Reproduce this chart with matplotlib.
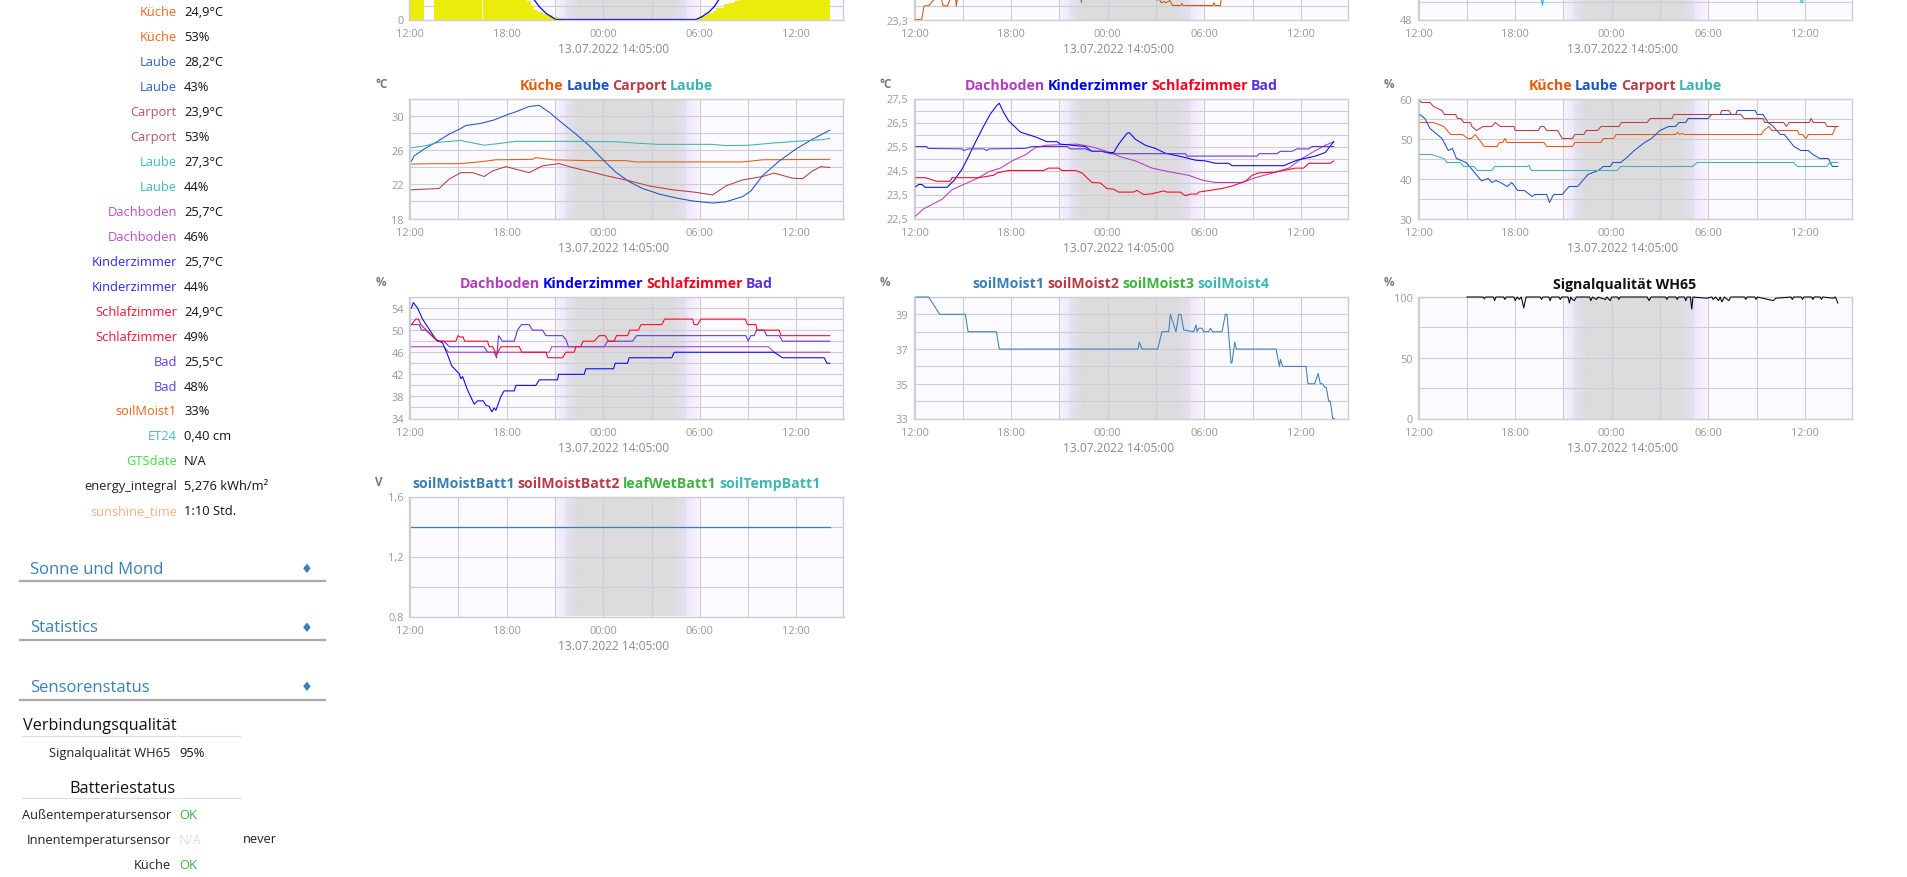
import numpy as np
import matplotlib
matplotlib.use("Agg")
import matplotlib.pyplot as plt
from matplotlib.colors import LinearSegmentedColormap

plt.rcParams['font.family'] = ['Open Sans', 'DejaVu Sans']

W, H = 1908, 878
GRID = '#cfcdd2'
BACK = '#fbfaff'
TICK = '#999999'

# ---- hours after 12:00 on the first day ----
solar_left = [-0.04, 1.5, 2.88, 4.5, 7.29, 7.5, 7.71, 7.92, 8.23, 8.54, 8.85, 9.16,
              17.34, 17.86, 18.1, 18.38, 18.6, 18.8, 19.0, 19.52, 19.83, 20.14, 20.45]
solar_right = [0.85, 2.82, 4.44, 7.29, 7.5, 7.71, 7.92, 8.23, 8.54, 8.85, 9.16, 9.57,
               17.86, 18.1, 18.38, 18.6, 18.8, 19.0, 19.52, 19.83, 20.14, 20.45, 26.08]
solar_val = [300, 300, 300, 300, 140, 100, 72, 58, 45, 32, 22, 10,
             7, 14, 24, 38, 50, 62, 88, 115, 127, 140, 300]
solarmax_h = [6.5, 7.67, 8.02, 8.44, 8.85, 9.06, 17.76, 18.15, 18.58, 18.9, 19.2, 20.5]
solarmax_v = [320, 155, 97, 47, 15, 0, 0, 22, 57, 97, 152, 320]

inner_h = [0.06, 0.44, 0.58, 0.89, 1.2, 1.27, 1.4, 1.6, 1.66, 1.76, 2.03, 2.18, 2.24, 2.4, 2.55, 2.59, 2.65, 2.8,
           10.3, 10.36, 10.42, 14.9, 15.02, 15.08, 15.19, 15.33, 15.5, 15.6, 15.77, 15.85, 16.02, 16.53, 16.6,
           16.68, 18.54, 18.6, 18.67, 19.0, 19.06, 19.4, 26.08]
inner_v = [23.3, 23.3, 23.5, 23.51, 23.6, 23.61, 23.8, 23.8, 23.61, 23.51, 23.5, 23.59, 23.61, 23.8, 23.61, 23.5, 23.61, 23.8,
           23.8, 23.56, 23.8, 23.8, 23.61, 23.59, 23.61, 23.55, 23.57, 23.55, 23.57, 23.59, 23.51, 23.51, 23.54,
           23.51, 23.51, 23.55, 23.51, 23.51, 23.61, 23.8, 23.8]
third_h = [0.08, 7.5, 7.69, 7.9, 23.65, 23.76, 23.86, 23.98, 26.08]
third_v = [55, 52, 49.65, 52, 52, 50, 50, 52, 55]

# temperatures outdoor
t_laube_h = [0.08, 0.25, 0.87, 1.7, 2.43, 3.05, 3.46, 4.39, 5.22, 5.95, 6.57, 7.4, 8.02, 8.64, 9.47, 10.3, 11.13, 11.96,
             12.78, 13.61, 14.44, 15.48, 16.51, 17.55, 18.79, 19.62, 20.66, 21.17, 21.9, 22.93, 23.97, 25.0, 26.08]
t_laube_v = [24.7, 25.3, 26.1, 27.0, 27.85, 28.4, 28.85, 29.1, 29.5, 30.05, 30.45, 31.07, 31.2, 30.4, 29.1, 27.85, 26.5, 24.9,
             23.4, 22.3, 21.5, 20.85, 20.4, 20.05, 19.8, 19.95, 20.55, 21.2, 23.0, 24.7, 26.1, 27.25, 28.3]
t_laube2_h = [0.08, 0.98, 1.8, 3.15, 4.6, 5.53, 6.57, 10.3, 12.78, 14.44, 15.48, 18.79, 19.62, 21.07, 22.52, 23.97, 25.63, 26.08]
t_laube2_v = [26.25, 26.5, 26.9, 27.1, 26.55, 26.75, 27.0, 27.0, 26.95, 26.75, 26.65, 26.65, 26.5, 26.55, 26.8, 27.0, 27.2, 27.35]
t_kueche_h = [0.08, 1.39, 3.05, 4.29, 5.33, 7.6, 7.81, 8.85, 11.13, 13.41, 14.03, 20.66, 21.9, 26.08]
t_kueche_v = [24.35, 24.4, 24.4, 24.6, 24.85, 24.9, 25.1, 24.85, 24.75, 24.75, 24.6, 24.6, 24.85, 24.9]
t_carport_h = [0.08, 1.8, 2.43, 3.15, 3.88, 4.6, 5.12, 5.95, 7.4, 8.23, 9.26, 10.09, 11.33, 12.16, 13.61, 14.86, 16.31, 17.76,
               18.79, 19.62, 20.66, 21.9, 22.62, 23.76, 24.39, 25.0, 25.52, 26.08]
t_carport_v = [21.35, 21.5, 22.6, 23.35, 23.35, 22.9, 23.55, 24.05, 23.35, 24.15, 24.4, 23.95, 23.4, 23.0, 22.4, 21.8, 21.35, 21.05,
               20.75, 21.8, 22.5, 22.9, 23.3, 22.7, 22.65, 23.55, 24.05, 23.95]

# temperatures indoor
t_kinder_h = [0.06, 0.25, 0.45, 0.66, 2.01, 2.43, 2.94, 3.36, 3.77, 4.29, 4.7, 5.12, 5.26, 5.53, 5.84, 6.57, 7.5, 8.23, 8.85, 9.05,
              10.6, 11.02, 11.64, 11.95, 12.37, 12.68, 13.2, 13.34, 13.72, 14.34, 14.96, 15.58, 16.82, 17.45, 18.07, 18.69, 19.52,
              19.72, 22.93, 23.76, 24.9, 25.52, 26.04]
t_kinder_v = [23.82, 23.92, 23.92, 23.8, 23.8, 24.07, 24.55, 25.1, 25.67, 26.35, 26.85, 27.22, 27.3, 26.92, 26.57, 26.1, 25.9, 25.7, 25.7, 25.6,
              25.5, 25.3, 25.3, 25.25, 25.25, 25.6, 26.05, 26.08, 25.8, 25.55, 25.42, 25.22, 25.04, 24.93, 24.9, 24.8, 24.8,
              24.7, 24.7, 24.93, 25.1, 25.25, 25.7]
t_bad_h = [0.06, 0.75, 0.83, 2.94, 3.05, 3.36, 4.29, 4.49, 4.6, 6.88, 7.29, 9.47, 9.68, 10.6, 11.02, 11.64, 12.16, 16.82, 16.93,
           21.28, 21.42, 22.52, 22.73, 23.45, 23.76, 24.49, 24.7, 26.04]
t_bad_v = [25.5, 25.5, 25.42, 25.4, 25.33, 25.4, 25.4, 25.33, 25.4, 25.42, 25.5, 25.5, 25.4, 25.4, 25.3, 25.3, 25.2, 25.2, 25.1,
           25.1, 25.2, 25.2, 25.3, 25.3, 25.4, 25.4, 25.5, 25.5]
t_dach_h = [0.06, 0.56, 1.7, 2.32, 3.15, 3.98, 4.6, 5.33, 6.05, 6.88, 7.5, 8.12, 10.09, 10.92, 11.95, 12.89, 13.72, 14.75, 15.79,
            17.03, 17.86, 18.69, 20.35, 21.17, 22.0, 23.25, 24.07, 24.7, 25.52, 26.04]
t_dach_v = [22.6, 22.9, 23.3, 23.7, 23.95, 24.2, 24.45, 24.6, 24.9, 25.15, 25.45, 25.55, 25.6, 25.5, 25.3, 25.05, 24.9, 24.6, 24.45,
            24.3, 24.1, 24.0, 24.0, 24.2, 24.35, 24.6, 25.0, 25.25, 25.55, 25.7]
t_schlaf_h = [0.06, 0.66, 1.39, 2.22, 2.32, 3.98, 4.91, 5.12, 5.84, 8.02, 8.33, 8.95, 9.16, 9.99, 10.4, 11.02, 11.54, 11.95, 12.37, 12.68,
              13.6, 13.81, 14.23, 14.75, 15.48, 15.69, 16.51, 16.82, 17.14, 17.55, 17.65, 19.1, 19.72, 20.55, 20.97, 21.38, 22.42, 23.66,
              24.18, 24.49, 25.83, 26.04]
t_schlaf_v = [24.2, 24.2, 24.05, 24.05, 24.2, 24.2, 24.3, 24.4, 24.5, 24.5, 24.6, 24.6, 24.5, 24.5, 24.4, 24.0, 23.98, 23.75, 23.72, 23.6,
              23.6, 23.67, 23.5, 23.53, 23.65, 23.6, 23.6, 23.45, 23.52, 23.52, 23.6, 23.75, 23.85, 24.05, 24.3, 24.4, 24.43, 24.6,
              24.6, 24.8, 24.8, 24.9]

# humidity outdoor
h_carport_h = [0.07, 0.18, 0.71, 0.92, 1.45, 1.6, 2.3, 2.42, 2.63, 2.8, 3.22, 3.31, 3.59, 3.8, 4.01, 4.55, 4.76, 5.08, 5.93, 6.0,
               7.43, 7.58, 7.79, 7.96, 8.64, 8.92, 9.56, 9.71, 10.27, 10.41, 11.12, 11.33, 12.44, 12.61, 14.19, 14.4, 15.75, 15.86,
               18.74, 18.84, 19.27, 19.44, 20.02, 20.23, 21.4, 21.51, 22.68, 22.85, 23.02, 24.28, 24.39, 24.52, 25.24, 25.39, 26.05]
h_carport_v = [59.5, 59, 59, 58, 57, 56, 56, 55, 55, 54, 54, 53, 52, 52.5, 53, 53, 54, 53, 53, 52,
               52, 53, 53, 52, 52, 50, 50, 51, 51, 52, 52, 53, 53, 54, 54, 55, 55, 56,
               56, 57, 57, 56, 56, 55, 55, 54, 54, 53, 54, 54, 55, 54, 54, 53, 53]
h_kueche_h = [0.07, 0.92, 1.56, 1.99, 2.73, 3.05, 3.27, 3.52, 4.08, 4.87, 5.02, 5.23, 5.36, 5.47, 7.79, 7.96, 9.56, 9.71, 11.33, 11.48,
              12.12, 12.27, 15.96, 16.1, 16.23, 16.36, 16.5, 21.3, 21.45, 21.77, 21.94, 23.54, 23.64, 23.85, 24.07, 24.22, 25.71, 25.93, 26.05]
h_kueche_v = [54, 54, 53, 51, 51, 50, 50, 51, 48, 48, 49, 49, 50, 49, 49, 48, 48, 49, 49, 50,
              50, 51, 51, 51.5, 51, 51.3, 51, 51, 52, 53, 52, 52, 51, 51, 50, 51, 51, 53, 53]
h_laube2_h = [0.07, 0.81, 1.56, 1.77, 2.58, 2.8, 3.44, 3.65, 4.55, 4.72, 6.72, 6.85, 7.0, 12.34, 12.55, 17.03, 17.3, 23.28, 23.54, 25.35, 25.56, 26.05]
h_laube2_v = [46, 46, 45, 44, 44, 43, 43, 42, 42, 43, 43, 43.3, 42, 42, 43, 43, 44, 44, 43, 43, 44, 44]
h_laube_h = [0.07, 0.39, 0.71, 1.45, 1.84, 2.1, 2.35, 2.95, 3.91, 4.33, 4.55, 4.8, 5.08, 5.51, 5.79, 6.15, 6.57, 7.06, 7.21, 7.96, 8.13,
             8.39, 8.92, 9.35, 9.88, 10.09, 10.52, 11.16, 11.48, 11.91, 12.06, 12.55, 12.87, 13.4, 14.04, 14.47, 15.0, 15.53, 15.96, 16.18,
             16.6, 16.75, 17.99, 18.2, 19.7, 19.8, 20.91, 21.04, 21.4, 21.72, 22.04, 22.47, 22.73, 23.32, 23.75, 24.22, 24.5, 24.92, 25.46, 25.71, 26.05]
h_laube_v = [56, 55, 52.5, 50, 47, 47.5, 45, 44, 39.4, 40, 39, 39.5, 39, 38, 39, 37, 37, 35.5, 36, 36, 34,
             36, 36, 38, 38, 39, 41, 42, 43, 43, 44, 44, 45, 47, 49, 50, 52, 53, 53, 54,
             54, 55, 55, 56, 56, 57, 57, 56, 56, 54, 53, 51, 51, 48, 47, 47, 46, 45, 45, 43, 43]

# humidity indoor
i_kinder_h = [0.08, 0.2, 0.46, 0.77, 1.6, 2.01, 2.32, 2.59, 3.05, 3.15, 3.26, 3.56, 3.98, 4.19, 4.54, 4.7, 4.91, 5.08, 5.22, 5.33, 5.64, 5.84,
              6.47, 6.57, 7.81, 8.02, 9.16, 9.22, 10.82, 10.92, 12.64, 12.74, 13.51, 13.61, 16.26, 16.41, 22.62, 23.14, 25.73, 25.9, 26.08]
i_kinder_v = [54, 55, 54, 52, 48.3, 47.7, 45.6, 43.5, 42.1, 41.2, 41.6, 39.2, 36.6, 37.2, 37.2, 36.4, 36.2, 35.2, 35.9, 35.5, 38, 39,
              39, 40, 40, 41, 41, 42, 42, 43, 43, 44, 44, 45, 45, 46, 46, 45, 45, 44, 44]
i_bad_h = [0.08, 0.56, 0.71, 0.98, 1.7, 2.11, 2.43, 4.6, 4.81, 5.22, 5.37, 5.5, 5.74, 6.47, 6.67, 6.92, 7.4, 7.6, 8.23, 8.44, 9.47, 9.68, 9.84,
           12.06, 12.27, 13.82, 14.07, 20.86, 21.01, 21.17, 21.38, 21.53, 22.0, 22.15, 22.94, 23.14, 26.08]
i_bad_v = [51, 51, 50, 50, 48, 48, 47, 47, 46, 46, 45, 49, 48, 48, 50, 51, 51, 50, 50, 49, 49, 48.3, 47,
           47, 48, 48, 49, 49, 48, 49, 49, 50, 50, 49, 49, 48, 48]
i_schlaf_h = [0.08, 0.35, 0.52, 0.66, 1.7, 2.84, 2.98, 3.15, 3.29, 3.38, 4.81, 4.91, 5.12, 5.37, 5.64, 6.78, 6.94, 8.44, 8.56, 9.47, 9.68,
              10.2, 10.3, 10.6, 10.75, 11.44, 11.75, 12.12, 12.33, 12.68, 12.82, 13.51, 13.65, 14.19, 14.34, 15.64, 15.81, 17.55, 17.65,
              17.86, 18.07, 20.82, 20.97, 21.49, 21.55, 22.94, 23.04, 26.08]
i_schlaf_v = [51, 52, 52, 51, 48, 48, 49, 48.7, 48.8, 48, 48, 47, 47, 45.6, 47, 47, 46, 46, 45, 45, 46,
              46, 47, 47, 48, 48, 49, 49, 48, 48, 49, 49, 50, 50, 51, 51, 52, 52, 51,
              51, 52, 52, 51, 51, 50, 50, 49, 49]
i_dach_h = [0.08, 2.11, 2.38, 8.64, 8.81, 22.27, 22.62, 26.08]
i_dach_v = [47, 47, 46, 46, 47, 47, 46, 46]

soil_h = [0.08, 0.87, 1.56, 3.15, 3.32, 5.08, 5.26, 13.88, 13.96, 14.13, 15.1, 15.37, 15.79, 15.89, 16.24, 16.41, 16.55, 16.72, 17.34, 17.49,
          17.55, 17.65, 17.86, 17.96, 18.27, 18.38, 18.52, 19.1, 19.31, 19.41, 19.52, 19.66, 19.72, 19.89, 19.99, 22.46, 22.67, 22.73, 22.87,
          24.32, 24.44, 24.86, 25.07, 25.21, 25.35, 25.48, 25.58, 25.73, 25.83, 25.98, 26.08]
soil_v = [40, 40, 39, 39, 38, 38, 37, 37, 37.4, 37, 37, 38, 38, 39, 38, 39, 39, 38.1, 38, 38.4,
          38, 38.2, 38.2, 38, 38, 38.2, 38, 38, 39, 39, 37.8, 36.2, 36.2, 37.4, 37, 37, 36, 36.4, 36,
          36, 35, 35, 35.6, 35, 35, 34.8, 34.8, 34, 34, 33, 33]

signal_h = [3.0, 4.0, 4.08, 4.16, 4.64, 4.72, 4.8, 5.28, 5.36, 5.44, 5.92, 6.0, 6.12, 6.25, 6.38, 6.53, 6.68, 7.56, 7.64, 7.72, 8.09, 8.17, 8.25,
            8.72, 8.8, 8.9, 9.28, 9.37, 9.45, 9.55, 9.67, 9.8, 10.62, 10.7, 10.8, 11.05, 11.15, 11.6, 11.7, 11.9, 12.0, 12.36, 12.44, 12.52,
            14.2, 14.32, 14.44, 15.35, 15.43, 15.51, 15.99, 16.07, 16.15, 16.52, 16.6, 16.68, 16.89, 16.97, 17.05, 17.88, 18.22, 18.3, 18.45,
            18.63, 18.74, 18.84, 19.0, 19.27, 19.4, 20.25, 20.33, 20.41, 20.89, 20.97, 21.05, 22.04, 22.2, 23.14, 23.22, 23.3, 23.78, 23.86,
            23.94, 24.42, 24.5, 24.58, 24.95, 25.03, 25.11, 25.78, 25.9, 26.05]
signal_v = [100, 100, 98.5, 100, 100, 97, 100, 100, 98, 100, 100, 97, 100, 98, 100, 91, 100, 100, 98, 100, 100, 97, 100,
            100, 98, 100, 100, 95, 100, 98, 97, 100, 100, 97, 100, 98, 100, 98, 100, 97, 100, 100, 98, 100,
            100, 97, 100, 100, 98, 100, 100, 98, 100, 100, 97, 100, 100, 90, 100, 99, 100, 98, 100,
            97, 100, 96, 100, 97, 100, 100, 98, 100, 100, 98, 100, 97, 99, 100, 98, 100, 100, 98,
            100, 100, 98, 100, 100, 98, 100, 99, 100, 95]

batt_h = [0.08, 26.08]
batt_v = [1.4, 1.4]

x_major = [0, 6, 12, 18, 24]
x_minor = [3, 9, 15, 21]
x_labels = ['12:00', '18:00', '00:00', '06:00', '12:00']
date_label = '13.07.2022 14:05:00'

# sidebar table
side_names = ['Küche', 'Küche', 'Laube', 'Laube', 'Carport', 'Carport', 'Laube', 'Laube', 'Dachboden', 'Dachboden',
              'Kinderzimmer', 'Kinderzimmer', 'Schlafzimmer', 'Schlafzimmer', 'Bad', 'Bad', 'soilMoist1', 'ET24',
              'GTSdate', 'energy_integral', 'sunshine_time']
side_values = ['24,9°C', '53%', '28,2°C', '43%', '23,9°C', '53%', '27,3°C', '44%', '25,7°C', '46%',
               '25,7°C', '44%', '24,9°C', '49%', '25,5°C', '48%', '33%', '0,40 cm', 'N/A', '5,276 kWh/m²', '1:10 Std.']
side_colors = ['#f0651f', '#f0651f', '#3560c8', '#3560c8', '#b9565c', '#b9565c', '#48b9b5', '#48b9b5', '#b84fc8', '#b84fc8',
               '#2a2aff', '#2a2aff', '#ff1030', '#ff1030', '#5f3fe0', '#5f3fe0', '#f0651f', '#48b9b5',
               '#3fe03f', '#222222', '#f5b183']

fig = plt.figure(figsize=(W / 100, H / 100), dpi=100, facecolor='white')
renderer = fig.canvas.get_renderer()


def put(x, y, s, **kw):
    kw.setdefault('va', 'center')
    return fig.text(x / W, 1 - y / H, s, **kw)


def color_title(cx, y, names, colors):
    items = [put(0, y, n, color=c, fontsize=10.2, fontweight='bold') for n, c in zip(names, colors)]
    widths = [t.get_window_extent(renderer).width for t in items]
    gap = 2.8
    x = cx - (sum(widths) + gap * (len(items) - 1)) / 2
    for t, w in zip(items, widths):
        t.set_x(x / W)
        x += w + gap


night = LinearSegmentedColormap.from_list('night', [
    (0.0, '#f6f2fd'), (0.07, '#eee9fa'), (0.075, '#e6e2f2'), (0.155, '#dcdcde'), (0.8, '#dcdcde'),
    (0.905, '#e4e0f0'), (0.915, '#efe9fb'), (1.0, '#f9f5ff')])


def panel(left, top, bottom, ymin, ymax, y_ticks, y_labels, y_minor, unit, names, colors):
    ax = fig.add_axes([left / W, 1 - bottom / H, 434 / W, (bottom - top) / H], facecolor=BACK)
    ax.imshow(np.linspace(0, 1, 256)[None, :], extent=(9.0, 18.0, 0, 1), cmap=night, aspect='auto',
              transform=ax.get_xaxis_transform(), zorder=0)
    ax.set_xlim(-0.04, 26.93)
    ax.set_ylim(ymin, ymax)
    ax.set_xticks(x_major)
    ax.set_xticklabels(x_labels)
    ax.set_xticks(x_minor, minor=True)
    ax.set_yticks(y_ticks)
    ax.set_yticklabels(y_labels)
    ax.set_yticks(y_minor, minor=True)
    ax.set_axisbelow(True)
    ax.grid(True, which='both', color=GRID, lw=0.8)
    ax.tick_params(which='both', length=0)
    ax.tick_params(axis='both', labelsize=7.9, labelcolor=TICK)
    ax.tick_params(axis='x', pad=6)
    ax.tick_params(axis='y', pad=4)
    for s in ax.spines.values():
        s.set_color(GRID)
        s.set_linewidth(1.0)
    put(left + 204.5, bottom + 29, date_label, color='#8a8a8a', fontsize=8.6, ha='center')
    if names:
        put(left - 34, top - 15, unit, color='#777777', fontsize=8.4, fontweight='bold')
        color_title(left + 207, top - 13.5, names, colors)
    return ax


LEFTS = [409.5, 914, 1418]
ROW1 = (-99.5, 20.5)
ROW2 = (99.5, 219.5)
ROW3 = (298, 419.5)
ROW4 = (497.5, 617.5)
LW = 0.75

# top row, mostly above the picture
ax = panel(LEFTS[0], *ROW1, 0, 900, [0], ['0'], list(range(100, 900, 100)), '', [], [])
ax.bar(solar_left, solar_val, width=np.array(solar_right) - np.array(solar_left), align='edge', color='#ecec0a', zorder=1.5)
ax.plot(solarmax_h, solarmax_v, color='#0000ff', lw=0.9, zorder=2)
ax = panel(LEFTS[1], *ROW1, 23.3, 25.1, [23.3], ['23,3'], [23.5, 23.7, 23.9, 24.1, 24.3, 24.5, 24.7, 24.9], '', [], [])
ax.plot(inner_h, inner_v, color='#c85a14', lw=LW)
ax = panel(LEFTS[2], *ROW1, 48, 62, [48], ['48'], list(range(50, 62, 2)), '', [], [])
ax.plot(third_h, third_v, color='#10bfe8', lw=LW)

# outdoor temperature
c4 = ['#e8590c', '#1f52c4', '#b93c44', '#3ab5b0']
ax = panel(LEFTS[0], *ROW2, 18, 32, [18, 22, 26, 30], ['18', '22', '26', '30'], [20, 24, 28, 32], '°C',
           ['Küche', 'Laube', 'Carport', 'Laube'], c4)
ax.plot(t_kueche_h, t_kueche_v, color=c4[0], lw=LW)
ax.plot(t_laube_h, t_laube_v, color=c4[1], lw=LW)
ax.plot(t_carport_h, t_carport_v, color=c4[2], lw=LW)
ax.plot(t_laube2_h, t_laube2_v, color=c4[3], lw=LW)

# indoor temperature
c5 = ['#b23cc0', '#0000ff', '#ff0020', '#5a30dc']
ax = panel(LEFTS[1], *ROW2, 22.5, 27.5, [22.5, 23.5, 24.5, 25.5, 26.5, 27.5], ['22,5', '23,5', '24,5', '25,5', '26,5', '27,5'],
           [23, 24, 25, 26, 27], '°C', ['Dachboden', 'Kinderzimmer', 'Schlafzimmer', 'Bad'], c5)
ax.plot(t_dach_h, t_dach_v, color=c5[0], lw=LW)
ax.plot(t_kinder_h, t_kinder_v, color=c5[1], lw=LW)
ax.plot(t_schlaf_h, t_schlaf_v, color=c5[2], lw=LW)
ax.plot(t_bad_h, t_bad_v, color=c5[3], lw=LW)

# outdoor humidity
ax = panel(LEFTS[2], *ROW2, 30, 60, [30, 40, 50, 60], ['30', '40', '50', '60'], [35, 45, 55], '%',
           ['Küche', 'Laube', 'Carport', 'Laube'], c4)
ax.plot(h_kueche_h, h_kueche_v, color=c4[0], lw=LW)
ax.plot(h_laube_h, h_laube_v, color=c4[1], lw=LW)
ax.plot(h_carport_h, h_carport_v, color=c4[2], lw=LW)
ax.plot(h_laube2_h, h_laube2_v, color=c4[3], lw=LW)

# indoor humidity
ax = panel(LEFTS[0], *ROW3, 34, 56, [34, 38, 42, 46, 50, 54], ['34', '38', '42', '46', '50', '54'],
           [36, 40, 44, 48, 52, 56], '%', ['Dachboden', 'Kinderzimmer', 'Schlafzimmer', 'Bad'], c5)
ax.plot(i_bad_h, i_bad_v, color=c5[3], lw=LW)
ax.plot(i_dach_h, i_dach_v, color=c5[0], lw=LW)
ax.plot(i_kinder_h, i_kinder_v, color=c5[1], lw=LW)
ax.plot(i_schlaf_h, i_schlaf_v, color=c5[2], lw=LW)

# soil moisture
c6 = ['#3a7fb8', '#b83c44', '#3cb43c', '#3cb8b4']
ax = panel(LEFTS[1], *ROW3, 33, 40, [33, 35, 37, 39], ['33', '35', '37', '39'], [34, 36, 38, 40], '%',
           ['soilMoist1', 'soilMoist2', 'soilMoist3', 'soilMoist4'], c6)
ax.plot(soil_h, soil_v, color=c6[0], lw=LW, clip_on=False, zorder=3)

# signal
ax = panel(LEFTS[2], *ROW3, 0, 100, [0, 50, 100], ['0', '50', '100'], [25, 75], '%', ['Signalqualität WH65'], ['#111111'])
ax.plot(signal_h, signal_v, color='#000000', lw=0.75, clip_on=False, zorder=3)

# batteries
ax = panel(LEFTS[0], *ROW4, 0.8, 1.6, [0.8, 1.2, 1.6], ['0,8', '1,2', '1,6'], [1.0, 1.4], 'V',
           ['soilMoistBatt1', 'soilMoistBatt2', 'leafWetBatt1', 'soilTempBatt1'], c6)
ax.plot(batt_h, batt_v, color=c6[0], lw=0.9)

# ---- sidebar ----
for i, (n, v, c) in enumerate(zip(side_names, side_values, side_colors)):
    y = 12.8 + 24.95 * i
    put(177, y, n, color=c, fontsize=9.3, ha='right')
    put(184, y, v, color='#111111', fontsize=9.3)

for label, y_text, y_line in [('Sonne und Mond', 569.5, 582), ('Statistics', 628.5, 641), ('Sensorenstatus', 687.5, 701)]:
    put(30, y_text, label, color='#3a7fb8', fontsize=12.0)
    put(307, y_text, '♦', color='#3a7fb8', fontsize=9.5, ha='center')
    fig.add_artist(plt.Line2D([20 / W, 325 / W], [1 - y_line / H] * 2, color='#aaaaaa', lw=1.6))

put(23.5, 726, 'Verbindungsqualität', color='#111111', fontsize=11.7)
put(175.5, 789, 'Batteriestatus', color='#111111', fontsize=11.7, ha='right')
for y_line in [737, 799]:
    fig.add_artist(plt.Line2D([22 / W, 176 / W], [1 - y_line / H] * 2, color='#dddddd', lw=0.8))
    fig.add_artist(plt.Line2D([178 / W, 240 / W], [1 - y_line / H] * 2, color='#dddddd', lw=0.8))

put(170.5, 754, 'Signalqualität WH65', color='#222222', fontsize=9.3, ha='right')
put(179, 754, '95%', color='#111111', fontsize=9.3)
put(171, 816, 'Außentemperatursensor', color='#222222', fontsize=9.3, ha='right')
put(179, 816, 'OK', color='#3cb043', fontsize=9.3)
put(171, 841, 'Innentemperatursensor', color='#222222', fontsize=9.3, ha='right')
put(179, 841, 'N/A', color='#dddddd', fontsize=9.3)
put(243, 840, 'never', color='#222222', fontsize=9.3)
put(171, 866, 'Küche', color='#222222', fontsize=9.3, ha='right')
put(179, 866, 'OK', color='#3cb043', fontsize=9.3)

fig.savefig('out.png', dpi=100)
